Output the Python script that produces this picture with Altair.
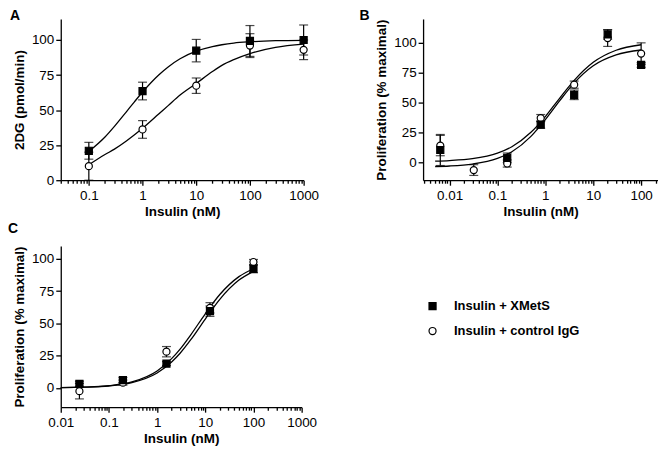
import json
import altair as alt
import pandas as pd

FONT = "Liberation Sans"
SERIES = ["Insulin + XMetS", "Insulin + control IgG"]
SHAPES = ["square", "circle"]
FILLS = ["black", "white"]
STROKES = ["black", "black"]
PANEL_LETTERS = ["A", "B", "C"]
X_TITLE = "Insulin (nM)"
Y_TITLES = ["2DG (pmol/min)", "Proliferation (% maximal)", "Proliferation (% maximal)"]
Y_TICKS = [0, 25, 50, 75, 100]

# ---------------- Panel A (2DG uptake) ----------------
a_x = [0.1, 1, 10, 100, 1000]
a_xmets = [21.0, 63.6, 92.4, 99.3, 100.0]
a_xmets_err = [6.0, 6.3, 8.0, 11.0, 10.7]
a_igg = [10.0, 36.2, 67.4, 96.0, 93.0]
a_igg_err = [10.0, 6.3, 5.5, 8.5, 7.0]
a_fit_x = [0.1, 0.2, 0.3, 0.5, 0.7, 1, 2, 3, 5, 10, 20, 30, 50, 100, 300, 1000]
a_fit_xmets = [20.5, 30.8, 38.4, 48.8, 55.7, 62.9, 75.1, 80.8, 86.6, 92.0, 95.3, 96.6, 97.8, 98.7, 99.5, 99.8]
a_fit_igg = [11.0, 18.3, 22.2, 28.0, 32.2, 37.0, 47.2, 53.2, 60.7, 69.0, 77.5, 81.9, 86.0, 90.3, 94.7, 97.0]
a_xmajor = [0.1, 1, 10, 100, 1000]

# ---------------- Panel B (proliferation) ----------------
b_x_xmets = [0.0064, 0.16, 0.8, 4, 20, 100]
b_xmets = [10.3, 3.8, 31.5, 56.5, 107.0, 81.5]
b_xmets_err = [13.0, 4.0, 3.0, 4.0, 4.0, 2.0]
b_x_igg = [0.0064, 0.032, 0.16, 0.8, 4, 20, 100]
b_igg = [14.0, -6.5, -1.0, 37.0, 65.0, 104.0, 91.0]
b_igg_err = [8.5, 4.5, 3.0, 3.0, 3.0, 7.0, 9.0]
b_fit_x = [0.005, 0.01, 0.03, 0.1, 0.2, 0.5, 1, 2, 4, 10, 30, 100]
b_fit_xmets = [1.0, 1.45, 3.0, 7.6, 13.0, 25.1, 38.3, 53.8, 68.6, 83.7, 93.8, 98.4]
b_fit_igg = [-3.5, -3.1, -1.5, 3.2, 8.8, 21.7, 35.7, 51.6, 66.5, 80.9, 90.0, 94.0]
b_xmajor = [0.01, 0.1, 1, 10, 100]

# ---------------- Panel C (proliferation) ----------------
c_x = [0.0244, 0.195, 1.5625, 12.5, 100]
c_xmets = [3.1, 6.0, 18.8, 59.4, 92.2]
c_xmets_err = [2.0, 2.0, 1.5, 4.0, 3.0]
c_igg = [-2.6, 4.0, 28.0, 62.0, 97.5]
c_igg_err = [6.0, 2.0, 4.0, 4.0, 2.0]
c_fit_x = [0.01, 0.03, 0.1, 0.3, 1, 2, 3, 5, 10, 20, 50, 100]
c_fit_xmets = [0.2, 0.5, 1.4, 4.0, 11.5, 20.0, 26.8, 37.3, 53.3, 68.6, 83.5, 90.3]
c_fit_igg = [0.2, 0.5, 1.7, 4.6, 13.1, 22.6, 30.0, 41.1, 57.4, 72.3, 86.2, 92.3]
c_xmajor = [0.01, 0.1, 1, 10, 100, 1000]


def points_frame(x_xm, xm, xm_err, x_ig, ig, ig_err):
    rows = []
    # control IgG first so that the squares are drawn on top
    for x, y, e in zip(x_ig, ig, ig_err):
        rows.append({"x": x, "y": y, "lo": y - e, "hi": y + e, "series": SERIES[1]})
    for x, y, e in zip(x_xm, xm, xm_err):
        rows.append({"x": x, "y": y, "lo": y - e, "hi": y + e, "series": SERIES[0]})
    return pd.DataFrame(rows)


def fit_frame(fx, f_xm, f_ig):
    rows = []
    for x, y in zip(fx, f_xm):
        rows.append({"x": x, "y": y, "series": SERIES[0]})
    for x, y in zip(fx, f_ig):
        rows.append({"x": x, "y": y, "series": SERIES[1]})
    return pd.DataFrame(rows)


def minor_ticks(dom):
    out = []
    for e in range(-4, 4):
        for m in range(2, 10):
            v = m * 10.0 ** e
            if dom[0] <= v <= dom[1]:
                out.append(v)
    return out


def panel(letter, letter_dx, letter_dy, pts, fit, xdom, ydom, xmajor, w, h, ytitle, legend):
    test = "indexof(%s, datum.value) >= 0" % json.dumps(xmajor)
    xscale = alt.Scale(type="log", domain=xdom, nice=False)
    yscale = alt.Scale(domain=ydom, nice=False, zero=False)
    xaxis = alt.Axis(
        values=xmajor + minor_ticks(xdom),
        title=X_TITLE,
        format="~g",
        labelExpr="%s ? datum.label : ''" % test,
        tickSize={"condition": {"test": test, "value": 5}, "value": 3},
        labelOverlap=False,
        labelFlush=False,
        labelPadding=3,
        titlePadding=3,
    )
    yaxis = alt.Axis(values=Y_TICKS, title=ytitle, tickSize=5, labelPadding=2,
                     titlePadding=5, labelFlush=False)
    X = alt.X("x:Q", scale=xscale, axis=xaxis)
    Y = alt.Y("y:Q", scale=yscale, axis=yaxis)

    curves = alt.Chart(fit).mark_line(color="black", strokeWidth=1.3,
                                      interpolate="monotone").encode(
        x=X, y=Y, detail="series:N")
    base = alt.Chart(pts)
    whisk = base.mark_rule(color="black", strokeWidth=1.2).encode(
        x=alt.X("x:Q", scale=xscale), y=alt.Y("lo:Q", scale=yscale), y2="hi:Q")
    cap_hi = base.mark_tick(orient="horizontal", size=9, thickness=1.2, color="black").encode(
        x=alt.X("x:Q", scale=xscale), y=alt.Y("hi:Q", scale=yscale))
    cap_lo = base.mark_tick(orient="horizontal", size=9, thickness=1.2, color="black").encode(
        x=alt.X("x:Q", scale=xscale), y=alt.Y("lo:Q", scale=yscale))
    if legend:
        leg = alt.Legend(orient="none", legendX=367, legendY=54, padding=0,
                         labelFont=FONT, labelFontSize=13, labelFontWeight="bold",
                         labelColor="black", symbolSize=50, symbolStrokeColor="black",
                         symbolStrokeWidth=1.2, rowPadding=11, labelOffset=15)
    else:
        leg = None
    shape = alt.Shape("series:N", scale=alt.Scale(domain=SERIES, range=SHAPES),
                      legend=leg, title=None)
    fill = alt.Fill("series:N", scale=alt.Scale(domain=SERIES, range=FILLS),
                    legend=leg, title=None)
    stroke = alt.Stroke("series:N", scale=alt.Scale(domain=SERIES, range=STROKES),
                        legend=leg, title=None)
    marks = base.mark_point(size=50, strokeWidth=1.2, opacity=1,
                            fillOpacity=1).encode(x=alt.X("x:Q", scale=xscale),
                                                  y=alt.Y("y:Q", scale=yscale),
                                                  shape=shape, fill=fill, stroke=stroke)
    lab = alt.Chart(pd.DataFrame({"letter": [letter]})).mark_text(
        align="left", baseline="top", font=FONT, fontSize=14, fontWeight="bold",
        color="black").encode(x=alt.value(letter_dx), y=alt.value(letter_dy), text="letter:N")
    return alt.layer(curves, whisk, cap_hi, cap_lo, marks, lab).properties(width=w, height=h)


pA = panel(PANEL_LETTERS[0], -51, -10,
           points_frame(a_x, a_xmets, a_xmets_err, a_x, a_igg, a_igg_err),
           fit_frame(a_fit_x, a_fit_xmets, a_fit_igg),
           [0.03, 1000], [0, 115], a_xmajor, 244, 162, Y_TITLES[0], False)
pB = panel(PANEL_LETTERS[1], -64, -10,
           points_frame(b_x_xmets, b_xmets, b_xmets_err, b_x_igg, b_igg, b_igg_err),
           fit_frame(b_fit_x, b_fit_xmets, b_fit_igg),
           [0.0028, 225], [-15, 120], b_xmajor, 236, 162, Y_TITLES[1], False)
pC = panel(PANEL_LETTERS[2], -53, -24,
           points_frame(c_x, c_xmets, c_xmets_err, c_x, c_igg, c_igg_err),
           fit_frame(c_fit_x, c_fit_xmets, c_fit_igg),
           [0.01, 1000], [-15, 110], c_xmajor, 242, 162, Y_TITLES[2], True)

row1 = alt.hconcat(pA, pB, spacing=40).resolve_scale(shape="independent", fill="independent",
                                                     stroke="independent")
chart = (
    alt.vconcat(row1, pC, spacing=4)
    .resolve_scale(shape="independent", fill="independent", stroke="independent")
    .properties(padding=0, background="white")
    .configure_view(strokeWidth=0)
    .configure_axis(domainColor="black", domainWidth=1.3, tickColor="black", tickWidth=1.3,
                    labelFont=FONT, labelFontSize=13.5, labelColor="black",
                    titleFont=FONT, titleFontSize=13.5, titleFontWeight="bold",
                    titleColor="black", grid=False)
)

chart.save("out.html", embed_options={"renderer": "svg", "actions": False})
